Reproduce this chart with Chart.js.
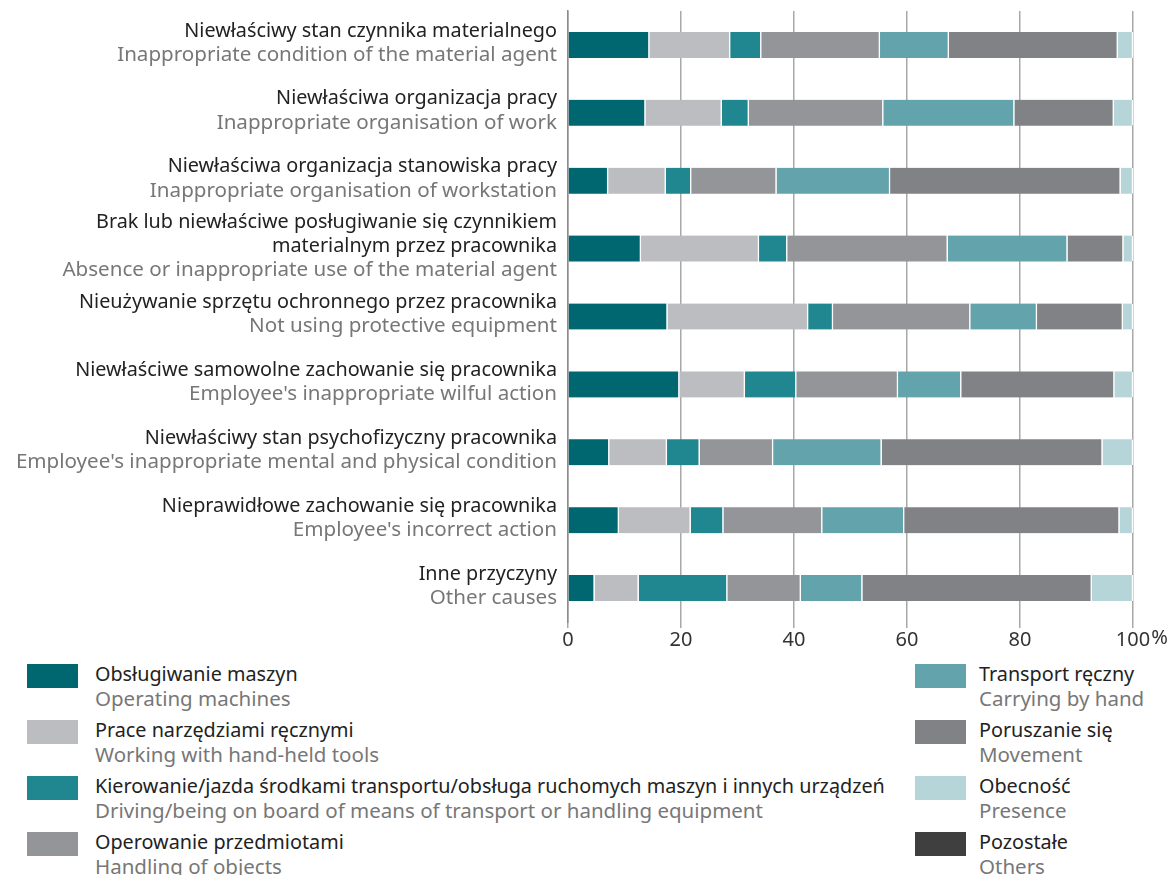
<!DOCTYPE html>
<html>
<head>
<meta charset="utf-8">
<script src="https://cdn.jsdelivr.net/npm/chart.js@4"></script>
<style>
  body{margin:0;background:#fff;font-family:"Noto Sans",sans-serif;}
  #wrap{position:relative;width:1175px;height:652px;}
  #legend{position:relative;width:1175px;height:223px;}
  .item{position:absolute;height:50px;}
  .sw{position:absolute;left:0;top:2px;height:24px;}
  .t1{position:absolute;white-space:nowrap;font-size:19.8px;color:#222;line-height:24px;top:0;}
  .t2{position:absolute;white-space:nowrap;font-size:20.5px;color:#777;line-height:24px;top:24px;}
</style>
</head>
<body>
<div id="wrap"><canvas id="chartMain"></canvas></div>
<div id="legend"></div>
<script>
/* ==========================================
   DATA
========================================== */
const labelsPl = [
  ["Niewłaściwy stan czynnika materialnego"],
  ["Niewłaściwa organizacja pracy"],
  ["Niewłaściwa organizacja stanowiska pracy"],
  ["Brak lub niewłaściwe posługiwanie się czynnikiem","materialnym przez pracownika"],
  ["Nieużywanie sprzętu ochronnego przez pracownika"],
  ["Niewłaściwe samowolne zachowanie się pracownika"],
  ["Niewłaściwy stan psychofizyczny pracownika"],
  ["Nieprawidłowe zachowanie się pracownika"],
  ["Inne przyczyny"]
];

const labelsEn = [
  "Inappropriate condition of the material agent",
  "Inappropriate organisation of work",
  "Inappropriate organisation of workstation",
  "Absence or inappropriate use of the material agent",
  "Not using protective equipment",
  "Employee's inappropriate wilful action",
  "Employee's inappropriate mental and physical condition",
  "Employee's incorrect action",
  "Other causes"
];

const seriesPl = [
  "Obsługiwanie maszyn",
  "Prace narzędziami ręcznymi",
  "Kierowanie/jazda środkami transportu/obsługa ruchomych maszyn i innych urządzeń",
  "Operowanie przedmiotami",
  "Transport ręczny",
  "Poruszanie się",
  "Obecność",
  "Pozostałe"
];

const seriesEn = [
  "Operating machines",
  "Working with hand-held tools",
  "Driving/being on board of means of transport or handling equipment",
  "Handling of objects",
  "Carrying by hand",
  "Movement",
  "Presence",
  "Others"
];

const seriesColors = [
  "#00666f","#bcbdc0","#208790","#949598",
  "#62a3ac","#818285","#b5d5d9","#3f3f3f"
];

const machines  = [14.4,13.7, 7.1,12.9,17.6,19.7, 7.3, 9.0, 4.7];
const handTools = [14.3,13.5,10.2,20.9,24.9,11.6,10.2,12.7, 7.8];
const driving   = [ 5.5, 4.8, 4.5, 5.0, 4.4, 9.1, 5.8, 5.8,15.7];
const handling  = [21.0,23.8,15.1,28.4,24.3,18.0,13.0,17.5,13.0];
const carrying  = [12.2,23.2,20.1,21.2,11.8,11.2,19.2,14.5,10.9];
const movement  = [29.9,17.6,40.8, 9.9,15.2,27.1,39.1,38.1,40.6];
const presence  = [ 2.7, 3.4, 2.2, 1.7, 1.8, 3.3, 5.4, 2.4, 7.3];
const others    = [ 0.0, 0.0, 0.0, 0.0, 0.0, 0.0, 0.0, 0.0, 0.0];

const seriesValues = [
  machines,handTools,driving,handling,
  carrying,movement,presence,others
];

const xTicks = [0,20,40,60,80,100];
const tickFont = "20px 'Noto Sans'";

/* ==========================================
   Y LABELS PLUGIN (two colour lines)
========================================== */
const yLabelPlugin = {
  id:"yLabels",
  afterDraw(chart){
    const ctx = chart.ctx;
    const y = chart.scales.y;
    const x = chart.scales.x;
    const right = chart.chartArea.left - 11;
    const lh = 24;
    ctx.save();
    ctx.textAlign = "right";
    ctx.textBaseline = "middle";
    labelsPl.forEach((pl,i)=>{
      const lines = pl.map(t=>({t,c:"#222",f:"19.8px 'Noto Sans'"}))
        .concat([{t:labelsEn[i],c:"#777",f:"20.6px 'Noto Sans'"}]);
      const cy = y.getPixelForValue(i) - 2;
      const start = cy - (lines.length-1)*lh/2;
      lines.forEach((ln,k)=>{
        ctx.font = ln.f;
        ctx.fillStyle = ln.c;
        ctx.fillText(ln.t,right,start+k*lh);
      });
    });

    // "%" after the last tick number
    const last = xTicks[xTicks.length-1];
    ctx.font = tickFont;
    const w = ctx.measureText(String(last)).width;
    const tickItem = x._labelItems ? x._labelItems[x._labelItems.length-1] : null;
    const ty = tickItem ? tickItem.options.translation[1] : chart.chartArea.bottom + 18;
    ctx.textAlign = "left";
    ctx.textBaseline = "top";
    ctx.fillStyle = "#333";
    ctx.fillText("%", x.getPixelForValue(last) + w/2 + 1, ty);
    ctx.restore();
  }
};

/* ==========================================
   CHART
========================================== */
new Chart(
  document.getElementById("chartMain"),
  {
    type:"bar",
    data:{
      labels:labelsEn,
      datasets:seriesPl.map((name,i)=>({
        label:name,
        data:seriesValues[i],
        backgroundColor:seriesColors[i],
        borderColor:"#ffffff",
        borderWidth:{left:0,right:1.5,top:0,bottom:0},
        borderSkipped:false,
        barThickness:26
      }))
    },
    options:{
      indexAxis:"y",
      responsive:true,
      maintainAspectRatio:false,
      animation:false,
      layout:{padding:{top:11,right:42,left:0,bottom:0}},
      plugins:{
        legend:{display:false},
        tooltip:{enabled:false}
      },
      scales:{
        x:{
          stacked:true,
          min:0,
          max:100,
          afterBuildTicks(scale){
            scale.ticks = xTicks.map(v=>({value:v}));
          },
          grid:{
            color:"#a8a8a8",
            lineWidth:1.5,
            drawTicks:true,
            tickLength:6
          },
          border:{display:false},
          ticks:{
            color:"#333",
            font:{family:"Noto Sans",size:20},
            padding:0
          }
        },
        y:{
          stacked:true,
          grid:{display:false},
          border:{display:true,color:"#8c8c8c",width:1.5},
          ticks:{display:false},
          afterFit(scale){
            scale.width = 568;
          }
        }
      }
    },
    plugins:[yLabelPlugin]
  }
);

/* ==========================================
   LEGEND (html)
========================================== */
const legend = document.getElementById("legend");
seriesPl.forEach((name,i)=>{
  const col = i<4 ? 0 : 1;
  const row = i%4;
  const item = document.createElement("div");
  item.className = "item";
  item.style.left = (col ? 915 : 27) + "px";
  item.style.top = (10 + row*56) + "px";
  const sw = document.createElement("div");
  sw.className = "sw";
  sw.style.width = "51px";
  sw.style.background = seriesColors[i];
  const t1 = document.createElement("div");
  t1.className = "t1";
  t1.style.left = (col ? 64 : 68) + "px";
  t1.textContent = name;
  const t2 = document.createElement("div");
  t2.className = "t2";
  t2.style.left = (col ? 64 : 68) + "px";
  t2.textContent = seriesEn[i];
  item.append(sw,t1,t2);
  legend.appendChild(item);
});
</script>
</body>
</html>
